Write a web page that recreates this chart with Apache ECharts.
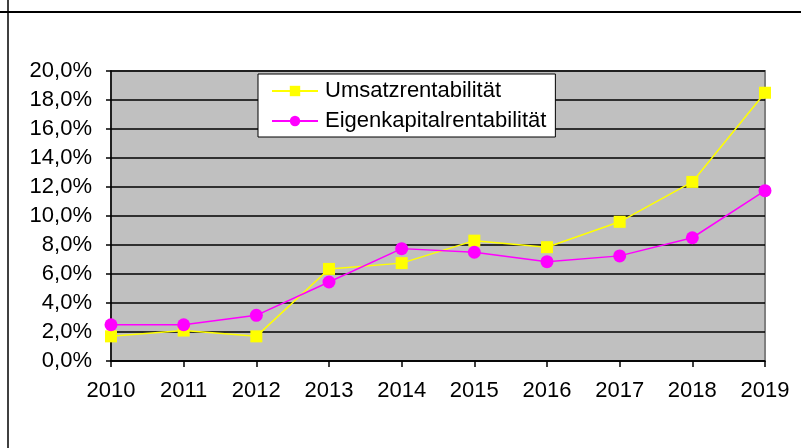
<!DOCTYPE html>
<html>
<head>
<meta charset="utf-8">
<script src="https://cdn.jsdelivr.net/npm/echarts@6/dist/echarts.min.js"></script>
<style>
    html, body { margin: 0; padding: 0; background: #fff; }
    #chart { width: 801px; height: 448px; }
</style>
</head>
<body>
<div id="chart"></div>
<script>
const years = ['2010', '2011', '2012', '2013', '2014', '2015', '2016', '2017', '2018', '2019']
const umsatz = [1.7, 2.1, 1.7, 6.35, 6.75, 8.3, 7.85, 9.6, 12.35, 18.5]
const eigenkapital = [2.5, 2.5, 3.15, 5.45, 7.75, 7.5, 6.85, 7.25, 8.5, 11.75]
const seriesNames = ['Umsatzrentabilität', 'Eigenkapitalrentabilität']

const font = 'Liberation Sans, Arial, sans-serif'

echarts.init(document.getElementById('chart')).setOption({
    animation: false,
    textStyle: { fontFamily: font },
    // Rahmen oben und links
    graphic: [
        { type: 'line', shape: { x1: 0, y1: 12, x2: 801, y2: 12 }, style: { stroke: '#000', lineWidth: 2 } },
        { type: 'line', shape: { x1: 8, y1: 0, x2: 8, y2: 448 }, style: { stroke: '#000', lineWidth: 1.5 } }
    ],
    grid: {
        left: 111,
        right: 36,
        top: 71,
        bottom: 87,
        show: true,
        backgroundColor: '#c0c0c0',
        borderColor: '#808080',
        borderWidth: 2
    },
    legend: {
        orient: 'vertical',
        left: 258,
        top: 74,
        backgroundColor: '#fff',
        borderColor: '#000',
        borderWidth: 1,
        borderRadius: 0,
        padding: [6, 9, 5, 13],
        itemWidth: 46,
        itemHeight: 13,
        itemGap: 8,
        textStyle: { fontSize: 22, color: '#000', fontFamily: font, lineHeight: 22, padding: [0, 0, 0, 2] },
        data: seriesNames
    },
    xAxis: {
        type: 'category',
        boundaryGap: false,
        data: years,
        axisLine: { lineStyle: { color: '#000', width: 1.5 } },
        axisTick: { show: true, length: 6, lineStyle: { color: '#000', width: 1.5 } },
        axisLabel: { fontSize: 22, color: '#000', margin: 19 },
        splitLine: { show: false }
    },
    yAxis: {
        type: 'value',
        min: 0,
        max: 20,
        interval: 2,
        axisLine: { show: true, lineStyle: { color: '#000', width: 1.5 } },
        axisTick: { show: true, length: 5, lineStyle: { color: '#000', width: 1.5 } },
        axisLabel: {
            fontSize: 22,
            color: '#000',
            margin: 19,
            formatter: v => v.toFixed(1).replace('.', ',') + '%'
        },
        splitLine: { show: true, lineStyle: { color: '#000', width: 1.5 } }
    },
    series: [
        {
            name: seriesNames[0],
            type: 'line',
            data: umsatz,
            symbol: 'rect',
            symbolSize: 12,
            itemStyle: { color: '#ffff00' },
            lineStyle: { color: '#ffff00', width: 1.5 }
        },
        {
            name: seriesNames[1],
            type: 'line',
            data: eigenkapital,
            symbol: 'circle',
            symbolSize: 13,
            itemStyle: { color: '#ff00ff' },
            lineStyle: { color: '#ff00ff', width: 1.5 }
        }
    ]
})
</script>
</body>
</html>
